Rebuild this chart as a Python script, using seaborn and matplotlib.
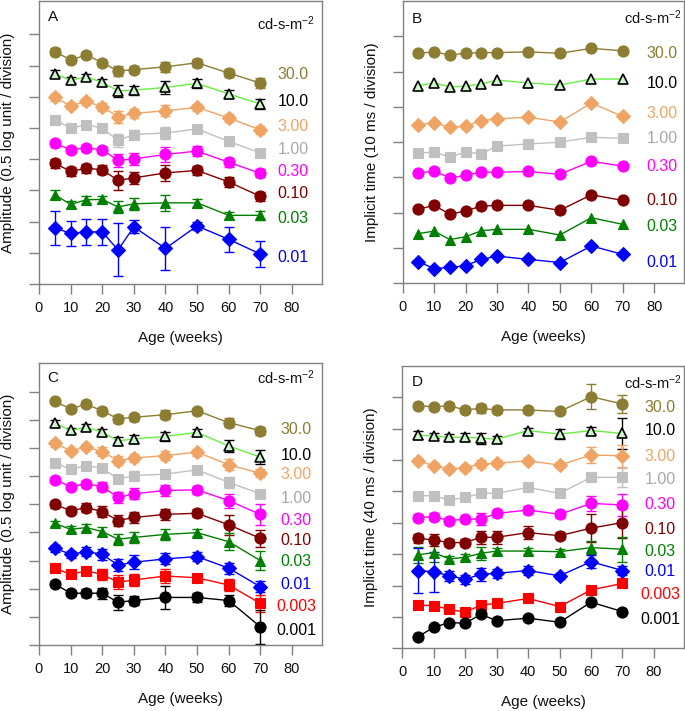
import numpy as np
import pandas as pd
import matplotlib
matplotlib.use("Agg")
import matplotlib.pyplot as plt
import matplotlib.transforms as mtransforms
import seaborn as sns

sns.set_style("white")
plt.rcParams['font.family'] = ['Liberation Sans', 'DejaVu Sans']
plt.rcParams['mathtext.fontset'] = 'custom'
plt.rcParams['mathtext.rm'] = 'Liberation Sans'
plt.rcParams['mathtext.default'] = 'regular'

# ---------------- data ----------------
ages = [5, 10, 15, 20, 25, 30, 40, 50, 60, 70]
age_ticks = [0, 10, 20, 30, 40, 50, 60, 70, 80]

intens_8 = ["30.0", "10.0", "3.00", "1.00", "0.30", "0.10", "0.03", "0.01"]
intens_10 = intens_8 + ["0.003", "0.001"]

# Panel A: amplitude, rod-cone (divisions)
A_vals = [
    [7.45, 7.18, 7.34, 7.09, 6.83, 6.87, 6.96, 7.09, 6.76, 6.44],
    [6.74, 6.53, 6.64, 6.46, 6.19, 6.21, 6.30, 6.43, 6.09, 5.77],
    [5.98, 5.71, 5.85, 5.68, 5.36, 5.47, 5.55, 5.66, 5.32, 4.94],
    [5.27, 4.99, 5.11, 4.99, 4.60, 4.79, 4.84, 4.97, 4.57, 4.20],
    [4.51, 4.30, 4.36, 4.30, 3.96, 4.01, 4.15, 4.26, 3.90, 3.55],
    [3.87, 3.61, 3.71, 3.66, 3.32, 3.40, 3.56, 3.64, 3.27, 2.81],
    [2.86, 2.55, 2.70, 2.71, 2.47, 2.57, 2.60, 2.60, 2.20, 2.20],
    [1.80, 1.62, 1.67, 1.67, 1.09, 1.83, 1.14, 1.86, 1.43, 0.96],
]
A_err = [
    [0.10, 0.10, 0.10, 0.10, 0.15, 0.12, 0.15, 0.12, 0.12, 0.15],
    [0.12, 0.10, 0.10, 0.10, 0.20, 0.15, 0.20, 0.15, 0.12, 0.15],
    [0.12, 0.10, 0.12, 0.12, 0.20, 0.15, 0.18, 0.12, 0.12, 0.12],
    [0.10, 0.08, 0.08, 0.08, 0.20, 0.15, 0.20, 0.10, 0.15, 0.12],
    [0.12, 0.10, 0.10, 0.10, 0.20, 0.20, 0.25, 0.15, 0.15, 0.12],
    [0.15, 0.15, 0.15, 0.15, 0.30, 0.20, 0.25, 0.15, 0.15, 0.15],
    [0.15, 0.10, 0.12, 0.12, 0.20, 0.20, 0.25, 0.12, 0.12, 0.15],
    [0.55, 0.41, 0.42, 0.41, 0.85, 0.21, 0.70, 0.14, 0.40, 0.41],
]

# Panel B: implicit time (divisions)
B_vals = [
    [6.52, 6.56, 6.47, 6.52, 6.54, 6.54, 6.56, 6.52, 6.66, 6.59],
    [5.60, 5.68, 5.57, 5.59, 5.65, 5.76, 5.68, 5.62, 5.79, 5.79],
    [4.50, 4.55, 4.43, 4.45, 4.61, 4.66, 4.71, 4.57, 5.11, 4.73],
    [3.69, 3.72, 3.58, 3.72, 3.67, 3.89, 3.95, 4.00, 4.14, 4.11],
    [3.13, 3.18, 2.99, 3.06, 3.15, 3.15, 3.17, 3.09, 3.46, 3.32],
    [2.10, 2.21, 1.96, 2.05, 2.19, 2.21, 2.21, 2.07, 2.51, 2.35],
    [1.41, 1.48, 1.24, 1.32, 1.49, 1.53, 1.53, 1.37, 1.86, 1.67],
    [0.61, 0.42, 0.45, 0.50, 0.68, 0.77, 0.68, 0.59, 1.06, 0.82],
]

# Panel C: amplitude (divisions)
C_vals = [
    [8.65, 8.39, 8.55, 8.32, 8.03, 8.09, 8.18, 8.32, 7.90, 7.61],
    [7.88, 7.62, 7.74, 7.56, 7.25, 7.32, 7.41, 7.55, 7.07, 6.67],
    [7.17, 6.90, 7.03, 6.87, 6.55, 6.64, 6.73, 6.85, 6.40, 6.10],
    [6.48, 6.24, 6.37, 6.28, 5.89, 6.02, 6.07, 6.22, 5.78, 5.37],
    [5.86, 5.63, 5.72, 5.63, 5.24, 5.37, 5.49, 5.51, 5.13, 4.64],
    [5.00, 4.77, 4.88, 4.74, 4.42, 4.53, 4.64, 4.68, 4.27, 3.79],
    [4.32, 4.11, 4.17, 4.03, 3.76, 3.82, 3.93, 3.99, 3.67, 3.00],
    [3.44, 3.22, 3.32, 3.22, 2.84, 2.94, 3.06, 3.14, 2.73, 2.07],
    [2.73, 2.51, 2.63, 2.51, 2.23, 2.31, 2.45, 2.39, 2.13, 1.48],
    [2.17, 1.84, 1.84, 1.84, 1.52, 1.58, 1.69, 1.69, 1.58, 0.65],
]
C_err = [
    [0.10, 0.10, 0.10, 0.10, 0.15, 0.12, 0.15, 0.10, 0.15, 0.15],
    [0.12, 0.08, 0.12, 0.12, 0.15, 0.15, 0.15, 0.12, 0.20, 0.25],
    [0.12, 0.10, 0.12, 0.15, 0.15, 0.15, 0.15, 0.12, 0.20, 0.15],
    [0.10, 0.08, 0.08, 0.10, 0.15, 0.15, 0.15, 0.10, 0.20, 0.15],
    [0.12, 0.10, 0.12, 0.15, 0.20, 0.20, 0.20, 0.15, 0.25, 0.37],
    [0.12, 0.12, 0.15, 0.20, 0.20, 0.20, 0.20, 0.15, 0.35, 0.30],
    [0.10, 0.10, 0.12, 0.15, 0.20, 0.20, 0.20, 0.12, 0.30, 0.35],
    [0.12, 0.12, 0.15, 0.20, 0.20, 0.25, 0.20, 0.15, 0.20, 0.20],
    [0.15, 0.12, 0.15, 0.20, 0.25, 0.20, 0.25, 0.15, 0.20, 0.30],
    [0.10, 0.10, 0.15, 0.20, 0.27, 0.15, 0.42, 0.15, 0.20, 0.60],
]

# Panel D: implicit time (divisions)
D_vals = [
    [7.74, 7.70, 7.73, 7.60, 7.65, 7.60, 7.60, 7.55, 8.02, 7.79],
    [6.80, 6.77, 6.73, 6.73, 6.70, 6.67, 6.94, 6.83, 6.94, 6.85],
    [5.98, 5.82, 5.71, 5.76, 5.87, 5.90, 5.98, 5.84, 6.16, 6.14],
    [4.87, 4.86, 4.73, 4.81, 4.94, 4.94, 5.13, 4.94, 5.45, 5.45],
    [4.17, 4.20, 4.07, 4.12, 4.12, 4.30, 4.41, 4.27, 4.62, 4.57],
    [3.51, 3.45, 3.37, 3.37, 3.54, 3.54, 3.69, 3.59, 3.83, 4.01],
    [2.98, 3.05, 2.85, 2.90, 3.03, 3.10, 3.10, 3.08, 3.21, 3.16],
    [2.48, 2.44, 2.31, 2.20, 2.36, 2.39, 2.48, 2.31, 2.76, 2.48],
    [1.38, 1.36, 1.24, 1.15, 1.38, 1.43, 1.59, 1.33, 1.86, 2.07],
    [0.37, 0.67, 0.82, 0.80, 1.08, 0.88, 0.96, 0.83, 1.47, 1.17],
]
D_err = [
    [0.08, 0.10, 0.08, 0.08, 0.15, 0.10, 0.08, 0.08, 0.40, 0.30],
    [0.12, 0.08, 0.10, 0.12, 0.18, 0.10, 0.08, 0.15, 0.10, 0.50],
    [0.08, 0.08, 0.10, 0.10, 0.12, 0.10, 0.08, 0.10, 0.25, 0.35],
    [0.08, 0.06, 0.08, 0.08, 0.10, 0.10, 0.08, 0.10, 0.10, 0.30],
    [0.10, 0.10, 0.08, 0.08, 0.20, 0.10, 0.12, 0.10, 0.25, 0.35],
    [0.15, 0.20, 0.10, 0.10, 0.20, 0.20, 0.20, 0.12, 0.44, 0.50],
    [0.25, 0.30, 0.08, 0.10, 0.20, 0.10, 0.10, 0.08, 0.20, 0.40],
    [0.72, 0.64, 0.15, 0.15, 0.20, 0.15, 0.15, 0.10, 0.20, 0.15],
    [0.05, 0.05, 0.05, 0.05, 0.05, 0.05, 0.05, 0.05, 0.05, 0.05],
    [0.05, 0.05, 0.05, 0.05, 0.05, 0.05, 0.05, 0.05, 0.05, 0.05],
]

# ---------------- styles ----------------
series_style = {
    "30.0": dict(marker="o", color="#8c7d32", mfc="#8c7d32", mec="#8c7d32", ecol="#8c7d32", tcol="#8c7d32"),
    "10.0": dict(marker="^", color="#66f040", mfc="#ccf5cc", mec="black", ecol="black", tcol="black"),
    "3.00": dict(marker="D", color="#f0a464", mfc="#f0a464", mec="#f0a464", ecol="#f0a464", tcol="#f0a464"),
    "1.00": dict(marker="s", color="#c0c0c0", mfc="#c0c0c0", mec="#c0c0c0", ecol="#c0c0c0", tcol="#a8a8a8"),
    "0.30": dict(marker="o", color="#ff00ff", mfc="#ff00ff", mec="#ff00ff", ecol="#ff00ff", tcol="#ff00ff"),
    "0.10": dict(marker="o", color="#800000", mfc="#800000", mec="#800000", ecol="#800000", tcol="#800000"),
    "0.03": dict(marker="^", color="#008000", mfc="#008000", mec="#008000", ecol="#008000", tcol="#008000"),
    "0.01": dict(marker="D", color="#0000ff", mfc="#0000ff", mec="#0000ff", ecol="#0000ff", tcol="#0000ff"),
    "0.003": dict(marker="s", color="#ff0000", mfc="#ff0000", mec="#ff0000", ecol="#ff0000", tcol="#ff0000"),
    "0.001": dict(marker="o", color="#000000", mfc="#000000", mec="#000000", ecol="#000000", tcol="#000000"),
}
marker_size = {"o": 8.0, "^": 7.5, "D": 7.5, "s": 7.0}

panels = [
    dict(letter="A", rect=[0.0569, 0.6006, 0.4131, 0.398], vals=A_vals, err=A_err, names=intens_8,
         ylim=9.07, nticks=9, ylabel="Amplitude (0.5 log unit / division)",
         label_x=0.899, label_y=[6.70, 5.85, 5.04, 4.31, 3.59, 2.89, 2.10, 0.85],
         unit_pos=(0.975, 0.919), letter_pos=(0.031, 0.943)),
    dict(letter="B", rect=[0.5879, 0.6015, 0.4107, 0.397], vals=B_vals, err=None, names=intens_8,
         ylim=8.0, nticks=8, ylabel="Implicit time (10 ms / division)",
         label_x=0.922, label_y=[6.50, 5.65, 4.80, 4.10, 3.30, 2.35, 1.60, 0.58],
         unit_pos=(0.993, 0.94), letter_pos=(0.032, 0.938)),
    dict(letter="C", rect=[0.0569, 0.0928, 0.4131, 0.396], vals=C_vals, err=C_err, names=intens_10,
         ylim=10.0, nticks=10, ylabel="Amplitude (0.5 log unit / division)",
         label_x=0.908, label_y=[7.64, 6.73, 6.04, 5.21, 4.42, 3.70, 2.96, 2.16, 1.36, 0.51],
         unit_pos=(0.975, 0.948), letter_pos=(0.031, 0.948)),
    dict(letter="D", rect=[0.5873, 0.0882, 0.411, 0.397], vals=D_vals, err=D_err, names=intens_10,
         ylim=9.0, nticks=9, ylabel="Implicit time (40 ms / division)",
         label_x=0.915, label_y=[7.67, 6.94, 6.11, 5.39, 4.57, 3.80, 3.10, 2.44, 1.70, 0.92],
         unit_pos=(0.992, 0.942), letter_pos=(0.033, 0.942)),
]

fig = plt.figure(figsize=(6.85, 7.11), dpi=100)
spine_col = "#808080"

for p in panels:
    ax = fig.add_axes(p["rect"])
    trans = mtransforms.blended_transform_factory(ax.transAxes, ax.transData)
    for i, name in enumerate(p["names"]):
        st = series_style[name]
        df = pd.DataFrame({"age": ages, "val": p["vals"][i]})
        if p["err"] is not None:
            ax.errorbar(ages, p["vals"][i], yerr=p["err"][i], fmt="none", ecolor=st["ecol"],
                        elinewidth=1.0, capsize=3.5, capthick=1.0, zorder=2)
        sns.lineplot(data=df, x="age", y="val", ax=ax, color=st["color"], lw=1.0,
                     marker=st["marker"], markersize=marker_size[st["marker"]],
                     markerfacecolor=st["mfc"], markeredgecolor=st["mec"],
                     markeredgewidth=1.2 if name == "10.0" else 0.8, zorder=3)
        ax.text(p["label_x"], p["label_y"][i], name, transform=trans, ha="center", va="center",
                fontsize=11.5, color=st["tcol"])
    ax.set_xlim(0, 89.5)
    ax.set_ylim(0, p["ylim"])
    ax.set_xticks(age_ticks)
    ax.set_yticks(list(range(p["nticks"])))
    ax.set_yticklabels([])
    ax.tick_params(axis="x", direction="out", length=7, width=1, color=spine_col, labelsize=10.5,
                   pad=5, bottom=True, labelcolor="#111111")
    ax.tick_params(axis="y", direction="out", length=7, width=1, color=spine_col, left=True)
    for s in ax.spines.values():
        s.set_color(spine_col)
        s.set_linewidth(1.0)
        s.set_visible(True)
    ax.set_xlabel("Age (weeks)", fontsize=11, color="#111111")
    ax.xaxis.set_label_coords(0.5, -0.166)
    ax.set_ylabel(p["ylabel"], fontsize=11, color="#111111")
    ax.yaxis.set_label_coords(-0.085, 0.5)
    ax.text(p["unit_pos"][0], p["unit_pos"][1], "cd-s-m$^{-2}$", transform=ax.transAxes,
            ha="right", va="center", fontsize=10.5, color="#111111")
    ax.text(p["letter_pos"][0], p["letter_pos"][1], p["letter"], transform=ax.transAxes,
            ha="left", va="center", fontsize=11, color="#111111")
    ax.grid(False)

fig.savefig("out.png", dpi=100)
